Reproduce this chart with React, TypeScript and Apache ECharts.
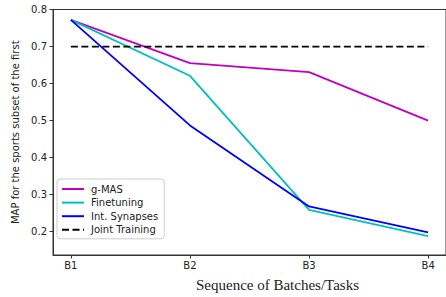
import React, { useEffect, useRef } from "react";
import * as echarts from "echarts";

const categories = ["B1", "B2", "B3", "B4"];
const gMAS = [0.772, 0.655, 0.631, 0.5];
const finetuning = [0.772, 0.621, 0.259, 0.188];
const intSynapses = [0.772, 0.487, 0.268, 0.198];
const jointTraining = [0.7, 0.7, 0.7, 0.7];
const yTicks = [0.2, 0.3, 0.4, 0.5, 0.6, 0.7, 0.8];

const toPts = (arr: number[]) => arr.map((v, i) => [i, v]);

export default function App() {
  const ref = useRef<HTMLDivElement>(null);
  useEffect(() => {
    if (!ref.current) return;
    const chart = echarts.init(ref.current, null, { renderer: "svg" });
    const tickFont = { fontFamily: "DejaVu Sans", fontSize: 10, color: "#222" };
    const lineSeries = (name: string, data: number[], color: string, dashed = false) => ({
      name,
      type: "line",
      data: toPts(data),
      showSymbol: false,
      symbol: "none",
      lineStyle: { color, width: 1.8, type: dashed ? [7, 3.5] : "solid" },
      itemStyle: { color },
      z: dashed ? 3 : 2,
    });
    chart.setOption({
      animation: false,
      backgroundColor: "#fff",
      grid: {
        left: 53,
        right: -4,
        top: 9.5,
        bottom: 36.5,
        show: true,
        borderColor: "#333",
        borderWidth: 1,
        backgroundColor: "transparent",
      },
      xAxis: {
        type: "value",
        min: -0.15,
        max: 3.15,
        name: "Sequence of Batches/Tasks",
        nameLocation: "middle",
        nameGap: 22,
        nameTextStyle: {
          fontFamily: "Liberation Serif",
          fontSize: 15,
          color: "#222",
          padding: [0, 0, 0, 56],
        },
        axisLine: { show: true, onZero: false, lineStyle: { color: "#333", width: 1 } },
        axisTick: { show: true, length: 3.5, customValues: [0, 1, 2, 3], lineStyle: { color: "#333" } },
        axisLabel: {
          ...tickFont,
          margin: 5,
          customValues: [0, 1, 2, 3],
          formatter: (v: number) => categories[Math.round(v)] ?? "",
        },
        splitLine: { show: false },
      },
      yAxis: {
        type: "value",
        min: 0.137,
        max: 0.8,
        name: "MAP for the sports subset of the first",
        nameLocation: "middle",
        nameGap: 32,
        nameTextStyle: { fontFamily: "DejaVu Sans", fontSize: 10, color: "#222" },
        axisLine: { show: true, onZero: false, lineStyle: { color: "#333", width: 1 } },
        axisTick: { show: true, length: 3.5, customValues: yTicks, lineStyle: { color: "#333" } },
        axisLabel: {
          ...tickFont,
          margin: 6,
          customValues: yTicks,
          formatter: (v: number) => v.toFixed(1),
        },
        splitLine: { show: false },
      },
      legend: {
        orient: "vertical",
        left: 57,
        top: 179,
        itemWidth: 22,
        itemHeight: 10,
        itemGap: 3.6,
        padding: [5, 6, 4, 4],
        backgroundColor: "rgba(255,255,255,0.85)",
        borderColor: "#ccc",
        borderWidth: 1,
        borderRadius: 3,
        itemStyle: { opacity: 0 },
        textStyle: { fontFamily: "DejaVu Sans", fontSize: 10, color: "#222", padding: [0, 0, 0, 2] },
        data: ["g-MAS", "Finetuning", "Int. Synapses", "Joint Training"],
      },
      series: [
        lineSeries("g-MAS", gMAS, "#BF00BF"),
        lineSeries("Finetuning", finetuning, "#00BFBF"),
        lineSeries("Int. Synapses", intSynapses, "#0000FF"),
        lineSeries("Joint Training", jointTraining, "#000000", true),
      ],
    });
    return () => chart.dispose();
  }, []);
  return <div ref={ref} style={{ width: 446, height: 297, position: "absolute", left: 0, top: 0 }} />;
}
